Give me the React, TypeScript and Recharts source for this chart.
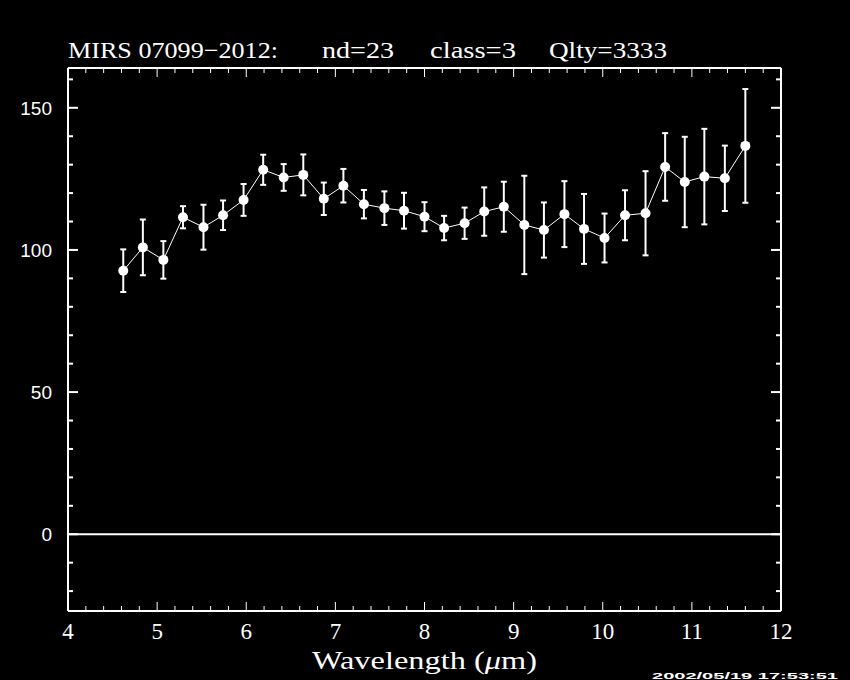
import { LineChart, Line, XAxis, YAxis, ErrorBar, ReferenceLine } from 'recharts';

// Spectrum points (wavelength in micron, flux, 1-sigma error)
const WAVELENGTH = [
  4.62, 4.84, 5.07, 5.29, 5.52, 5.74, 5.97, 6.19, 6.42, 6.64, 6.87, 7.09, 7.32, 7.55, 7.77, 8.0,
  8.22, 8.45, 8.67, 8.89, 9.12, 9.34, 9.57, 9.79, 10.02, 10.25, 10.48, 10.7, 10.92, 11.14, 11.37, 11.6,
];
const FLUX = [
  92.7, 100.9, 96.5, 111.5, 108.0, 112.2, 117.6, 128.2, 125.5, 126.4, 118.0, 122.6, 116.1, 114.7, 113.8, 111.7,
  107.7, 109.4, 113.5, 115.2, 108.8, 107.0, 112.6, 107.4, 104.2, 112.2, 112.9, 129.2, 123.9, 125.8, 125.2, 136.6,
];
const ERROR = [
  7.5, 9.8, 6.6, 3.9, 7.9, 5.2, 5.6, 5.3, 4.7, 7.2, 5.7, 5.9, 5.0, 5.9, 6.3, 5.1,
  4.3, 5.5, 8.5, 8.8, 17.3, 9.7, 11.6, 12.3, 8.6, 8.8, 14.8, 11.9, 15.9, 16.8, 11.5, 20.0,
];

const X_TICKS = [
  4, 4.2, 4.4, 4.6, 4.8, 5, 5.2, 5.4, 5.6, 5.8, 6, 6.2, 6.4, 6.6, 6.8, 7, 7.2, 7.4, 7.6, 7.8,
  8, 8.2, 8.4, 8.6, 8.8, 9, 9.2, 9.4, 9.6, 9.8, 10, 10.2, 10.4, 10.6, 10.8, 11, 11.2, 11.4, 11.6, 11.8, 12,
];
const Y_TICKS = [-20, -10, 0, 10, 20, 30, 40, 50, 60, 70, 80, 90, 100, 110, 120, 130, 140, 150, 160];
const X_LABELED = [4, 5, 6, 7, 8, 9, 10, 11, 12];
const Y_LABELED = [0, 50, 100, 150];

const X_DOMAIN: [number, number] = [4, 12];
const Y_DOMAIN: [number, number] = [-27, 164];

const data = WAVELENGTH.map((w, i) => ({ wl: w, flux: FLUX[i], err: ERROR[i] }));

const FG = '#ffffff';
const SERIF = '"Liberation Serif", "DejaVu Serif", serif';
const SANS = '"Liberation Sans", "DejaVu Sans", sans-serif';

// axis bands are 30px; chart margins make up the rest so the frame sits at 68..781 x 68..611
const BAND = 30;

type TickProps = { x?: number; y?: number; payload?: { value: number } };

function BottomTick({ x = 0, y = 0, payload }: TickProps) {
  const v = payload?.value ?? 0;
  const major = X_LABELED.includes(v);
  return (
    <g>
      <line x1={x} x2={x} y1={y} y2={y - (major ? 9 : 5)} stroke={FG} strokeWidth={1} />
      {major && (
        <text x={x} y={y + 28} fill={FG} fontSize={23} fontFamily={SERIF} textAnchor="middle">
          {v}
        </text>
      )}
    </g>
  );
}

function TopTick({ x = 0, y = 0, payload }: TickProps) {
  const v = payload?.value ?? 0;
  const major = X_LABELED.includes(v);
  return <line x1={x} x2={x} y1={y} y2={y + (major ? 9 : 5)} stroke={FG} strokeWidth={1} />;
}

function LeftTick({ x = 0, y = 0, payload }: TickProps) {
  const v = payload?.value ?? 0;
  const major = Y_LABELED.includes(v);
  return (
    <g>
      <line x1={x} x2={x + (major ? 10 : 5)} y1={y} y2={y} stroke={FG} strokeWidth={2} />
      {major && (
        <text x={x - 16} y={y + 7} fill={FG} fontSize={19} fontFamily={SANS} textAnchor="end">
          {v}
        </text>
      )}
    </g>
  );
}

function RightTick({ x = 0, y = 0, payload }: TickProps) {
  const v = payload?.value ?? 0;
  const major = Y_LABELED.includes(v);
  return <line x1={x} x2={x - (major ? 10 : 5)} y1={y} y2={y} stroke={FG} strokeWidth={2} />;
}

export default function App() {
  return (
    <div style={{ position: 'absolute', left: 0, top: 0, width: 850, height: 680, background: '#000', overflow: 'hidden' }}>
      <LineChart
        width={850}
        height={680}
        data={data}
        margin={{ top: 68 - BAND, right: 69 - BAND, bottom: 69 - BAND, left: 68 - BAND }}
      >
        <XAxis
          xAxisId="bottom"
          dataKey="wl"
          type="number"
          domain={X_DOMAIN}
          allowDataOverflow
          ticks={X_TICKS}
          interval={0}
          height={BAND}
          tickSize={0}
          tickMargin={0}
          tickLine={false}
          axisLine={{ stroke: FG, strokeWidth: 2 }}
          tick={<BottomTick />}
        />
        <XAxis
          xAxisId="top"
          orientation="top"
          dataKey="wl"
          type="number"
          domain={X_DOMAIN}
          allowDataOverflow
          ticks={X_TICKS}
          interval={0}
          height={BAND}
          tickSize={0}
          tickMargin={0}
          tickLine={false}
          axisLine={{ stroke: FG, strokeWidth: 2 }}
          tick={<TopTick />}
        />
        <YAxis
          yAxisId="left"
          type="number"
          domain={Y_DOMAIN}
          allowDataOverflow
          ticks={Y_TICKS}
          interval={0}
          width={BAND}
          tickSize={0}
          tickMargin={0}
          tickLine={false}
          axisLine={{ stroke: FG, strokeWidth: 2 }}
          tick={<LeftTick />}
        />
        <YAxis
          yAxisId="right"
          orientation="right"
          type="number"
          domain={Y_DOMAIN}
          allowDataOverflow
          ticks={Y_TICKS}
          interval={0}
          width={BAND}
          tickSize={0}
          tickMargin={0}
          tickLine={false}
          axisLine={{ stroke: FG, strokeWidth: 2 }}
          tick={<RightTick />}
        />
        <ReferenceLine xAxisId="bottom" yAxisId="left" y={0} stroke={FG} strokeWidth={2} />
        <Line
          xAxisId="bottom"
          yAxisId="left"
          dataKey="flux"
          stroke={FG}
          strokeWidth={1}
          dot={{ r: 5, fill: FG, stroke: FG, strokeWidth: 0 }}
          isAnimationActive={false}
        >
          <ErrorBar dataKey="err" direction="y" width={3} stroke={FG} strokeWidth={2} isAnimationActive={false} />
        </Line>
      </LineChart>
      <svg width={850} height={680} style={{ position: 'absolute', left: 0, top: 0, pointerEvents: 'none' }}>
        <g fill={FG} fontFamily={SERIF} fontSize={23}>
          <text x={68} y={58} textLength={210} lengthAdjust="spacingAndGlyphs">MIRS 07099−2012:</text>
          <text x={322} y={58} textLength={72} lengthAdjust="spacingAndGlyphs">nd=23</text>
          <text x={430} y={58} textLength={86} lengthAdjust="spacingAndGlyphs">class=3</text>
          <text x={549} y={58} textLength={118} lengthAdjust="spacingAndGlyphs">Qlty=3333</text>
        </g>
        <text x={312} y={669} fill={FG} fontFamily={SERIF} fontSize={26} textLength={225} lengthAdjust="spacingAndGlyphs">
          Wavelength (<tspan fontStyle="italic">μ</tspan>m)
        </text>
        <text x={652} y={679} fill={FG} fontFamily={SANS} fontSize={9} fontWeight="bold" textLength={186} lengthAdjust="spacingAndGlyphs">
          2002/05/19 17:53:51
        </text>
      </svg>
    </div>
  );
}
